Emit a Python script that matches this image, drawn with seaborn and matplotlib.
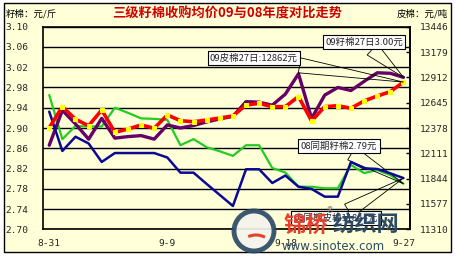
import numpy as np
import pandas as pd
import matplotlib
matplotlib.use('Agg')
import matplotlib.pyplot as plt
import seaborn as sns
from matplotlib.patches import Rectangle, Circle, Arc

# ---------------- data ----------------
dates = ['8-31'] + [f'9-{d}' for d in range(1, 28)]
label_dates = ['8-31', '9-9', '9-18', '9-27']

seed09 = [2.866, 2.935, 2.908, 2.878, 2.919, 2.880, 2.883, 2.885, 2.878, 2.906,
          2.900, 2.905, 2.912, 2.918, 2.923, 2.952, 2.951, 2.945, 2.967, 3.007,
          2.919, 2.965, 2.980, 2.974, 2.992, 3.009, 3.008, 3.00]
seed08 = [2.965, 2.878, 2.904, 2.903, 2.903, 2.940, 2.930, 2.919, 2.918, 2.916,
          2.866, 2.878, 2.862, 2.854, 2.845, 2.866, 2.866, 2.821, 2.812, 2.784,
          2.784, 2.781, 2.781, 2.827, 2.811, 2.817, 2.807, 2.79]
lint09 = [12381, 12603, 12470, 12402, 12568, 12333, 12367, 12410, 12375, 12515,
          12455, 12444, 12462, 12483, 12505, 12620, 12638, 12603, 12603, 12710,
          12452, 12603, 12613, 12586, 12663, 12715, 12761, 12862]
lint08 = [12550, 12136, 12286, 12215, 12020, 12114, 12114, 12114, 12114, 12067,
          11907, 11907, 11788, 11672, 11556, 11943, 11943, 11798, 11877, 11759,
          11735, 11654, 11654, 12020, 11953, 11946, 11900, 11850]

left_ticks = [2.70, 2.74, 2.78, 2.82, 2.86, 2.90, 2.94, 2.98, 3.02, 3.06, 3.10]
right_ticks = [11310, 11577, 11844, 12111, 12378, 12645, 12912, 13179, 13446]

title = '三级籽棉收购均价09与08年度对比走势'
left_unit = '籽棉：元/斤'
right_unit = '皮棉：元/吨'
notes = ['09籽棉27日3.00元', '09皮棉27日:12862元', '08同期籽棉2.79元', '08同期皮棉11844元']

df = pd.DataFrame({'i': np.arange(len(dates)), 'date': dates,
                   'seed09': seed09, 'seed08': seed08,
                   'lint09': lint09, 'lint08': lint08})

# ---------------- style ----------------
sns.set_theme(style='white')
plt.rcParams['font.family'] = ['Noto Sans CJK SC', 'DejaVu Sans']

BG = '#FFFFD8'
W, H = 455, 256
fig = plt.figure(figsize=(W / 100, H / 100), dpi=100)
fig.patch.set_facecolor('white')
fig.patches.append(Rectangle((4 / W, 4 / H), 447 / W, 249 / H, transform=fig.transFigure,
                             facecolor=BG, edgecolor='black', lw=1.0, zorder=-10))

ax = fig.add_axes([42.7 / W, 1 - 229.3 / H, (410 - 42.7) / W, (229.3 - 26.7) / H])
ax.set_facecolor(BG)

sns.lineplot(data=df, x='i', y='seed08', ax=ax, color='#22CC22', lw=1.6)
sns.lineplot(data=df, x='i', y='seed09', ax=ax, color='#660066', lw=2.4)
ax.set_ylim(2.70, 3.10)
ax.set_yticks(left_ticks)
ax.set_yticklabels([f'{v:.2f}' for v in left_ticks], family='DejaVu Sans Mono', fontsize=6.8)
ax.yaxis.grid(True, color='black', lw=1.0)
ax.xaxis.grid(False)
ax.set_axisbelow(True)
ax.tick_params(axis='y', length=0, pad=10.5)
ax.set_xlim(-0.5, len(dates) - 0.5)
ax.set_xticks([-0.5, 8.5, 17.5, 26.5])
ax.set_xticklabels([])
ax.set_xticks([0, 9, 18, 27], minor=True)
ax.set_xticklabels(label_dates, minor=True, family='DejaVu Sans Mono', fontsize=6.8)
ax.tick_params(axis='x', which='major', direction='in', length=3, width=1, color='black')
ax.tick_params(axis='x', which='minor', length=0, pad=7)
ax.set_xlabel('')
ax.set_ylabel('')
for s in ax.spines.values():
    s.set_color('black')
    s.set_linewidth(1.2)

ax2 = ax.twinx()
sns.lineplot(data=df, x='i', y='lint08', ax=ax2, color='#0A0A96', lw=1.8)
sns.lineplot(data=df, x='i', y='lint09', ax=ax2, color='#FF0000', lw=2.6,
             marker='s', markersize=3.2, markerfacecolor='#FFFF00', markeredgecolor='#FFFF00')
ax2.set_ylim(11310, 13446)
ax2.set_yticks(right_ticks)
ax2.set_yticklabels([str(v) for v in right_ticks], family='DejaVu Sans Mono', fontsize=6.8)
ax2.tick_params(axis='y', direction='in', length=3, width=1, color='black', pad=7)
ax2.set_ylabel('')
ax2.grid(False)
for k, s in ax2.spines.items():
    s.set_visible(k == 'right')
    s.set_color('black')
    s.set_linewidth(1.2)

# ---------------- texts ----------------
fig.text(0.5, 1 - 13 / H, title, ha='center', va='center', color='#D00000',
         fontsize=9.5, fontweight='bold')
fig.text(6 / W, 1 - 14 / H, left_unit, ha='left', va='center', fontsize=6.8, color='black')
fig.text(448 / W, 1 - 14 / H, right_unit, ha='right', va='center', fontsize=6.8, color='black')

box = dict(boxstyle='square,pad=0.25', fc='white', ec='black', lw=0.8)
arrow = dict(arrowstyle='wedge,tail_width=1.6', fc='none', ec='black', lw=0.6,
             shrinkA=0, shrinkB=0)
last = len(dates) - 1
ax.annotate(notes[0], xy=(last, seed09[-1]), xytext=(364, H - 42), textcoords='figure pixels',
            ha='center', va='center', fontsize=6.8, bbox=box, arrowprops=arrow, zorder=10)
ax2.annotate(notes[1], xy=(last, lint09[-1]), xytext=(254, H - 58), textcoords='figure pixels',
             ha='center', va='center', fontsize=6.8, bbox=box, arrowprops=arrow, zorder=10)
ax.annotate(notes[2], xy=(last, seed08[-1]), xytext=(339, H - 146), textcoords='figure pixels',
            ha='center', va='center', fontsize=6.8, bbox=box, arrowprops=arrow, zorder=10)
ax2.annotate(notes[3], xy=(last, lint08[-1]), xytext=(336, H - 218), textcoords='figure pixels',
             ha='center', va='center', fontsize=6.8, bbox=box, arrowprops=arrow, zorder=10)

# ---------------- watermark ----------------
dark = '#2C4A66'
fig.patches.append(Circle((2.54, (H - 231) / 100), 0.20, transform=fig.dpi_scale_trans,
                          facecolor='#F4F4EC', edgecolor=dark, lw=3.5, alpha=0.92, zorder=20))
fig.patches.append(Arc((2.56, (H - 250) / 100), 0.34, 0.30, theta1=55, theta2=120,
                       transform=fig.dpi_scale_trans, edgecolor='#E8402A', lw=2.2, zorder=21))
fig.text(284 / W, 1 - 225 / H, '锦桥', ha='left', va='center', color='#E8402A',
         fontsize=16, fontweight='bold', zorder=22)
fig.text(333 / W, 1 - 225 / H, '纺织网', ha='left', va='center', color=dark,
         fontsize=16, fontweight='bold', zorder=22)
fig.text(330 / W, 1 - 211 / H, '®', ha='center', va='center', color='#888888',
         fontsize=6, zorder=22, family='DejaVu Sans')
fig.text(282 / W, 1 - 246 / H, 'www.sinotex.com', ha='left', va='center', color=dark,
         fontsize=8.5, zorder=22, family='DejaVu Sans')

fig.savefig('out.png', dpi=100, facecolor=fig.get_facecolor())
